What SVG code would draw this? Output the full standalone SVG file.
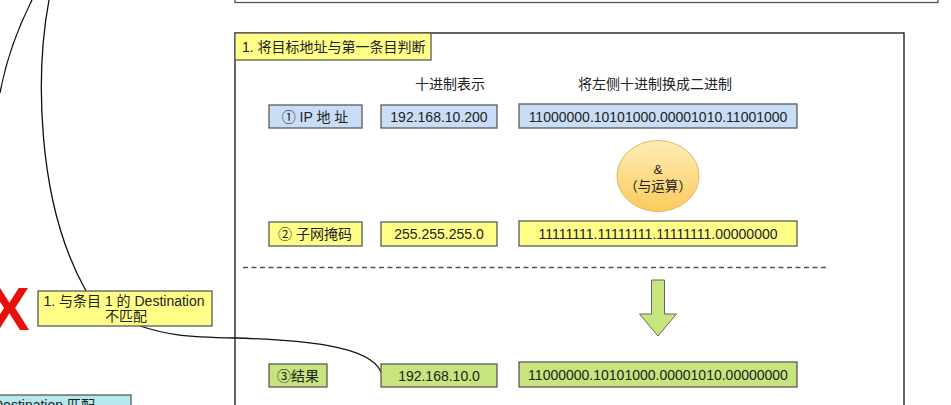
<svg xmlns="http://www.w3.org/2000/svg" width="951" height="405" viewBox="0 0 951 405">
<defs>
<style>
.t{font-family:"Liberation Sans","Noto Sans CJK SC",sans-serif;font-size:14px;fill:#222;}
.c{text-anchor:middle;}
.box{stroke:#5a5a5a;stroke-width:1.3;}
.blue{fill:#c9def6;}
.yel{fill:#ffff88;}
.grn{fill:#c7e47d;}
.conn{fill:none;stroke:#111;stroke-width:1.3;}
</style>
<linearGradient id="og" x1="0" y1="0" x2="0" y2="1">
<stop offset="0" stop-color="#fdedb8"/>
<stop offset="1" stop-color="#fbca5c"/>
</linearGradient>
</defs>
<rect width="951" height="405" fill="#fff"/>
<g id="connectors">
<path class="conn" d="M32,0 C18,28 6,60 0,93"/>
<path class="conn" d="M49,0 C36,70 35,200 86,291"/>
<path class="conn" d="M140,326 C165,334 180,337 235,338 C300,340 370,345 381,372"/>
</g>
<g id="top-box"><rect x="235" y="-20" width="703" height="22.5" fill="#fff" stroke="#555" stroke-width="1.3"/></g>
<g id="main-frame"><rect x="235" y="33" width="669" height="400" fill="none" stroke="#111" stroke-width="1.3"/></g>
<g id="title"><rect class="box yel" x="235" y="33" width="196" height="27"/><text class="t" x="242" y="52">1. 将目标地址与第一条目判断</text></g>
<g id="hdr1"><text class="t c" x="450" y="89">十进制表示</text></g>
<g id="hdr2"><text class="t c" x="655" y="89">将左侧十进制换成二进制</text></g>
<g id="ip-label"><rect class="box blue" x="269" y="105" width="93" height="23"/><text class="t c" x="315" y="121.5">① IP  地 址</text></g>
<g id="ip-dec"><rect class="box blue" x="381" y="105" width="116" height="23"/><text class="t c" x="439" y="121.5">192.168.10.200</text></g>
<g id="ip-bin"><rect class="box blue" x="519" y="104" width="278" height="24"/><text class="t c" x="658" y="121.5">11000000.10101000.00001010.11001000</text></g>
<g id="and-op"><ellipse cx="658" cy="176" rx="41" ry="35.5" fill="url(#og)" stroke="#e2b858" stroke-width="1"/><text class="t c" x="658" y="174" style="font-size:13.5px">&amp;</text><text class="t c" x="658" y="191" style="font-size:13.5px">（与运算）</text></g>
<g id="mask-label"><rect class="box yel" x="269" y="222" width="93" height="24"/><text class="t c" x="315" y="239">② 子网掩码</text></g>
<g id="mask-dec"><rect class="box yel" x="381" y="222" width="116" height="24"/><text class="t c" x="439" y="239">255.255.255.0</text></g>
<g id="mask-bin"><rect class="box yel" x="519" y="221" width="278" height="25"/><text class="t c" x="658" y="239">11111111.11111111.11111111.00000000</text></g>
<g id="divider"><line x1="243" y1="267.5" x2="828" y2="267.5" stroke="#555" stroke-width="1.3" stroke-dasharray="5,3.5"/></g>
<g id="down-arrow"><path d="M651.5,280 H664.5 V314 H676.5 L658,336 L639.5,314 H651.5 Z" fill="#c7e47d" stroke="#666" stroke-width="1"/></g>
<g id="res-label"><rect class="box grn" x="269" y="364" width="58" height="23"/><text class="t c" x="298" y="381">③结果</text></g>
<g id="res-dec"><rect class="box grn" x="381" y="364" width="116" height="23"/><text class="t c" x="439" y="381">192.168.10.0</text></g>
<g id="res-bin"><rect class="box grn" x="519" y="362" width="278" height="25"/><text class="t c" x="658" y="380">11000000.10101000.00001010.00000000</text></g>
<g id="red-x"><text x="-11" y="330" style="font-family:'Liberation Sans',sans-serif;font-weight:bold;font-size:61px;fill:#e8100c">X</text></g>
<g id="mismatch"><rect class="box yel" x="38" y="291" width="174" height="35"/><text class="t c" x="124" y="306">1. 与条目 1 的 Destination</text><text class="t c" x="126" y="321">不匹配</text></g>
<g id="match"><rect class="box" x="-2" y="395" width="133" height="20" fill="#b5e9ee"/><text class="t" x="-7" y="410">Destination 匹配</text></g>
</svg>
